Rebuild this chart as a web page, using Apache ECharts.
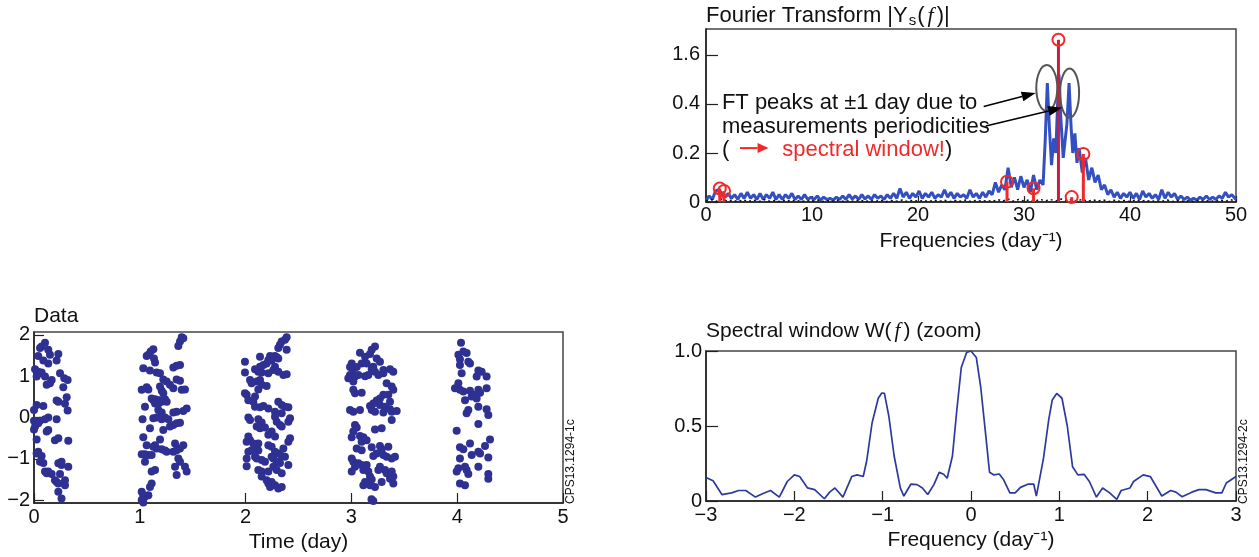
<!DOCTYPE html>
<html><head><meta charset="utf-8">
<script src="https://cdn.jsdelivr.net/npm/echarts@6/dist/echarts.min.js"></script>
<style>html,body{margin:0;padding:0;background:#fff;}#c{width:1259px;height:557px;}</style>
</head><body><div id="c"></div>
<script>
// ---------- Fourier transform panel ----------
const ftYTickValues = [0, 2, 4, 6];
const ftYTickLabels = ['0', '0.2', '0.4', '1.6'];
const ftBlue = [[0,0.05],[0.3,0.25],[0.6,0.1],[0.9,0.45],[1.2,0.5],[1.5,0.35],[1.8,0.2],[2.1,0.35],[2.4,0.15],[2.7,0.3],[3.0,0.1],[3.3,0.35],[3.6,0.15],[3.9,0.4],[4.2,0.15],[4.5,0.3],[4.8,0.1],[5.1,0.35],[5.4,0.1],[5.7,0.3],[6.0,0.15],[6.3,0.4],[6.6,0.1],[6.9,0.3],[7.2,0.1],[7.5,0.3],[7.8,0.15],[8.1,0.35],[8.4,0.1],[8.7,0.25],[9.0,0.1],[9.3,0.3],[9.6,0.1],[9.9,0.2],[10.2,0.1],[10.5,0.25],[10.8,0.08],[11.1,0.2],[11.4,0.1],[11.7,0.15],[12.0,0.08],[12.3,0.2],[12.6,0.1],[12.9,0.25],[13.2,0.1],[13.5,0.3],[13.8,0.12],[14.1,0.25],[14.4,0.1],[14.7,0.3],[15.0,0.12],[15.3,0.25],[15.6,0.1],[15.9,0.3],[16.2,0.15],[16.5,0.25],[16.8,0.1],[17.1,0.3],[17.4,0.15],[17.7,0.35],[18.0,0.15],[18.3,0.55],[18.6,0.2],[18.9,0.4],[19.2,0.15],[19.5,0.35],[19.8,0.2],[20.1,0.45],[20.4,0.15],[20.7,0.35],[21.0,0.2],[21.3,0.4],[21.6,0.15],[21.9,0.3],[22.2,0.2],[22.5,0.5],[22.8,0.2],[23.1,0.4],[23.4,0.15],[23.7,0.35],[24.0,0.2],[24.3,0.3],[24.6,0.15],[24.9,0.5],[25.2,0.2],[25.5,0.35],[25.8,0.15],[26.1,0.4],[26.4,0.2],[26.7,0.45],[27.0,0.3],[27.3,0.8],[27.6,0.4],[27.9,0.7],[28.2,0.5],[28.5,1.4],[28.8,0.6],[29.1,1.0],[29.4,0.5],[29.7,1.05],[30.0,0.6],[30.3,0.9],[30.6,0.4],[30.9,1.1],[31.2,0.5],[31.5,0.9],[31.8,0.7],[32.0,2.5],[32.2,4.85],[32.4,3.0],[32.6,1.5],[32.8,2.6],[33.0,2.0],[33.15,3.8],[33.3,5.2],[33.45,3.6],[33.7,1.8],[33.9,2.6],[34.05,3.2],[34.25,4.85],[34.45,3.0],[34.6,2.0],[34.8,2.8],[35.0,1.6],[35.2,2.2],[35.5,1.2],[35.8,1.8],[36.1,0.9],[36.4,1.4],[36.7,0.8],[37.0,1.1],[37.3,0.5],[37.6,0.7],[37.9,0.3],[38.2,0.5],[38.5,0.2],[38.8,0.4],[39.1,0.15],[39.4,0.35],[39.7,0.2],[40.0,0.4],[40.3,0.15],[40.6,0.35],[40.9,0.1],[41.2,0.45],[41.5,0.2],[41.8,0.35],[42.1,0.15],[42.4,0.3],[42.7,0.1],[43.0,0.5],[43.3,0.15],[43.6,0.4],[43.9,0.2],[44.2,0.35],[44.5,0.1],[44.8,0.25],[45.1,0.1],[45.4,0.2],[45.7,0.08],[46.0,0.15],[46.3,0.08],[46.6,0.2],[46.9,0.1],[47.2,0.25],[47.5,0.1],[47.8,0.2],[48.1,0.1],[48.4,0.25],[48.7,0.15],[49.0,0.4],[49.3,0.2],[49.6,0.3],[50.0,0.1]];
const ftBlack = [[0,0.05],[0.5,0.1],[1,0.03],[1.5,0.12],[2,0.04],[2.5,0.08],[3,0.02],[3.5,0.09],[4,0.03],[4.5,0.07],[5,0.02],[5.5,0.1],[6,0.03],[6.5,0.06],[7,0.02],[7.5,0.08],[8,0.03],[8.5,0.07],[9,0.02],[9.5,0.06],[10,0.03],[10.5,0.08],[11,0.02],[11.5,0.05],[12,0.03],[12.5,0.07],[13,0.02],[13.5,0.06],[14,0.03],[14.5,0.08],[15,0.02],[15.5,0.06],[16,0.03],[16.5,0.07],[17,0.02],[17.5,0.06],[18,0.03],[18.5,0.08],[19,0.02],[19.5,0.07],[20,0.03],[20.5,0.06],[21,0.02],[21.5,0.08],[22,0.03],[22.5,0.07],[23,0.02],[23.5,0.06],[24,0.03],[24.5,0.08],[25,0.02],[25.5,0.07],[26,0.03],[26.5,0.06],[27,0.02],[27.5,0.1],[28,0.04],[28.5,0.12],[29,0.03],[29.5,0.1],[30,0.04],[30.5,0.09],[31,0.03],[31.5,0.11],[32,0.05],[32.5,0.1],[33,0.04],[33.5,0.12],[34,0.05],[34.5,0.1],[35,0.04],[35.5,0.11],[36,0.03],[36.5,0.09],[37,0.04],[37.5,0.08],[38,0.02],[38.5,0.07],[39,0.03],[39.5,0.06],[40,0.02],[40.5,0.08],[41,0.03],[41.5,0.07],[42,0.02],[42.5,0.06],[43,0.03],[43.5,0.08],[44,0.02],[44.5,0.06],[45,0.03],[45.5,0.05],[46,0.02],[46.5,0.07],[47,0.03],[47.5,0.06],[48,0.02],[48.5,0.08],[49,0.03],[49.5,0.09],[50,0.04]];
const ftPeaks = [[1.3,0.55],[1.7,0.45],[28.4,0.83],[30.9,0.56],[33.25,6.62],[34.5,0.2],[35.6,1.96]];

// ---------- Data panel (time in days, value) ----------
const dataDay0 = [[0.104,1.81],[0.072,1.72],[0.057,1.68],[0.135,1.64],[0.151,1.52],[0.23,1.54],[0.04,1.49],[0.088,1.38],[0.214,1.38],[0.135,1.31],[0.01,1.17],[0.04,1.11],[0.072,1.09],[0.246,1.07],[0.025,0.99],[0.104,0.99],[0.167,0.91],[0.286,0.95],[0.318,0.91],[0.151,0.83],[0.12,0.79],[0.277,0.73],[0.309,0.49],[0.214,0.41],[0.23,0.38],[0.025,0.30],[0.088,0.28],[0.293,0.33],[0.0,0.18],[0.318,0.17],[0.135,0.0],[0.104,-0.04],[0.214,-0.04],[0.057,-0.08],[0.0,-0.08],[0.04,-0.14],[0.01,-0.22],[0.0,-0.29],[0.135,-0.30],[0.12,-0.34],[0.23,-0.50],[0.198,-0.55],[0.324,-0.56],[0.025,-0.53],[0.04,-0.83],[0.025,-0.87],[0.072,-0.93],[0.057,-1.07],[0.088,-1.10],[0.23,-1.11],[0.26,-1.07],[0.26,-1.15],[0.324,-1.19],[0.135,-1.31],[0.12,-1.35],[0.104,-1.31],[0.167,-1.37],[0.246,-1.37],[0.198,-1.52],[0.214,-1.56],[0.293,-1.52],[0.23,-1.60],[0.293,-1.64],[0.23,-1.80],[0.26,-1.96]];
const dataDay1 = [[1.396,1.94],[1.411,1.92],[1.380,1.84],[1.364,1.73],[1.128,1.65],[1.103,1.60],[1.081,1.52],[1.065,1.49],[1.134,1.43],[1.144,1.33],[1.033,1.19],[1.096,1.14],[1.159,1.09],[1.191,1.07],[1.348,1.25],[1.380,1.27],[1.317,1.21],[1.222,0.92],[1.254,0.87],[1.348,0.92],[1.380,0.89],[1.285,0.79],[1.317,0.71],[1.396,0.67],[1.427,0.68],[1.018,0.67],[1.065,0.73],[1.081,0.68],[1.191,0.75],[1.207,0.65],[1.222,0.59],[1.112,0.46],[1.128,0.42],[1.144,0.44],[1.159,0.38],[1.175,0.41],[1.191,0.42],[1.207,0.38],[1.222,0.41],[1.238,0.44],[1.254,0.38],[1.144,0.34],[1.175,0.33],[1.049,0.26],[1.175,0.18],[1.207,0.12],[1.317,0.12],[1.348,0.14],[1.411,0.16],[1.443,0.22],[1.026,-0.04],[1.128,-0.02],[1.159,0.0],[1.207,-0.04],[1.238,0.0],[1.270,-0.04],[1.096,-0.26],[1.222,-0.30],[1.285,-0.22],[1.317,-0.18],[1.348,-0.14],[1.380,-0.13],[1.033,-0.48],[1.191,-0.53],[1.065,-0.67],[1.128,-0.71],[1.159,-0.75],[1.144,-0.67],[1.207,-0.77],[1.238,-0.80],[1.254,-0.83],[1.317,-0.83],[1.348,-0.79],[1.380,-0.75],[1.411,-0.67],[1.333,-0.63],[1.018,-0.89],[1.049,-0.89],[1.081,-0.91],[1.112,-0.91],[1.049,-1.07],[1.364,-0.99],[1.380,-1.07],[1.333,-1.19],[1.427,-1.19],[1.443,-1.31],[1.348,-1.39],[1.112,-1.31],[1.144,-1.27],[1.112,-1.60],[1.096,-1.68],[1.018,-1.80],[1.033,-1.88],[1.049,-1.92],[1.081,-1.88],[1.018,-2.00],[1.033,-2.06]];
const dataDay2 = [[2.388,1.94],[2.372,1.88],[2.341,1.84],[2.325,1.76],[2.309,1.68],[2.388,1.64],[2.136,1.47],[2.231,1.49],[2.262,1.47],[2.278,1.49],[2.294,1.46],[2.309,1.43],[2.215,1.39],[2.246,1.38],[2.199,1.31],[2.168,1.27],[2.136,1.23],[1.994,1.35],[1.994,1.09],[2.089,1.17],[2.120,1.11],[2.152,1.09],[2.309,1.11],[2.357,1.03],[2.388,1.05],[2.278,1.23],[2.262,1.15],[2.215,1.07],[2.042,0.91],[2.057,0.83],[2.105,0.87],[2.136,0.91],[2.152,0.79],[2.199,0.76],[2.120,0.68],[1.994,0.59],[2.010,0.55],[2.089,0.51],[2.026,0.42],[2.073,0.38],[2.089,0.26],[2.136,0.25],[2.168,0.28],[2.215,0.22],[2.309,0.38],[2.341,0.30],[2.372,0.26],[2.404,0.25],[2.278,0.14],[2.341,0.10],[2.026,0.0],[2.042,-0.06],[2.120,-0.04],[2.152,-0.12],[2.105,-0.22],[2.136,-0.26],[2.183,-0.24],[2.278,0.02],[2.294,-0.10],[2.325,-0.18],[2.341,-0.22],[2.404,-0.10],[2.420,-0.02],[2.246,-0.34],[2.215,-0.42],[2.278,-0.46],[2.026,-0.46],[2.042,-0.55],[2.010,-0.59],[2.073,-0.63],[2.120,-0.63],[2.105,-0.75],[2.026,-0.83],[2.057,-0.79],[2.010,-0.99],[2.120,-0.80],[2.215,-0.67],[2.246,-0.71],[2.278,-0.83],[2.309,-0.87],[2.357,-0.75],[2.404,-0.59],[2.420,-0.50],[2.372,-0.95],[2.341,-0.93],[2.089,-0.95],[2.105,-0.99],[2.152,-1.03],[2.183,-1.07],[2.246,-0.95],[2.262,-0.99],[2.294,-1.07],[2.325,-1.10],[2.010,-1.18],[2.120,-1.27],[2.152,-1.31],[2.215,-1.31],[2.262,-1.19],[2.294,-1.27],[2.341,-1.35],[2.404,-1.15],[2.152,-1.43],[2.199,-1.52],[2.215,-1.60],[2.246,-1.56],[2.278,-1.64],[2.309,-1.72],[2.341,-1.68],[2.231,-1.68]];
const dataDay3 = [[3.223,1.72],[3.192,1.64],[3.176,1.54],[3.081,1.57],[3.129,1.47],[3.239,1.43],[3.097,1.31],[3.144,1.31],[3.270,1.35],[3.003,1.31],[2.987,1.22],[3.018,1.17],[3.050,1.22],[3.207,1.23],[3.192,1.17],[3.223,1.11],[3.302,1.15],[3.365,1.17],[3.396,1.11],[3.302,1.07],[2.987,1.03],[3.034,0.99],[3.066,1.03],[3.129,1.00],[3.160,1.03],[3.255,1.03],[2.971,0.95],[3.018,0.87],[3.333,0.83],[3.381,0.75],[3.396,0.67],[3.018,0.67],[3.034,0.59],[3.097,0.60],[3.302,0.55],[3.270,0.46],[3.349,0.55],[3.239,0.41],[3.207,0.34],[3.176,0.28],[3.365,0.38],[3.270,0.30],[3.318,0.26],[3.365,0.20],[2.987,0.18],[3.018,0.14],[3.081,0.18],[3.192,0.18],[3.223,0.14],[3.381,0.14],[3.428,0.16],[3.302,0.12],[3.381,-0.06],[3.034,-0.18],[3.050,-0.24],[3.286,-0.26],[3.223,-0.29],[3.018,-0.34],[3.081,-0.45],[3.113,-0.48],[3.003,-0.48],[3.097,-0.59],[3.144,-0.55],[3.050,-0.75],[3.097,-0.79],[3.192,-0.72],[3.270,-0.69],[3.286,-0.77],[3.349,-0.71],[3.239,-0.87],[3.207,-0.93],[3.302,-0.91],[3.333,-0.95],[3.381,-0.99],[3.412,-0.95],[3.003,-0.99],[3.018,-1.07],[3.066,-1.11],[3.034,-1.19],[3.097,-1.15],[3.144,-1.15],[3.003,-1.31],[3.113,-1.27],[3.160,-1.31],[3.255,-1.27],[3.270,-1.19],[3.318,-1.27],[3.333,-1.35],[3.381,-1.31],[3.396,-1.43],[3.365,-1.48],[3.176,-1.43],[3.192,-1.50],[3.129,-1.56],[3.113,-1.64],[3.176,-1.64],[3.223,-1.68],[3.286,-1.56],[3.396,-1.60],[3.207,-2.02],[3.19,-1.98]];
const dataDay4 = [[4.036,1.81],[4.011,1.52],[4.058,1.60],[4.089,1.56],[4.026,1.41],[4.105,1.35],[4.121,1.31],[4.026,1.27],[4.042,1.07],[4.200,1.14],[4.231,1.11],[4.184,0.99],[4.278,0.99],[4.011,0.83],[3.979,0.71],[4.026,0.67],[4.058,0.63],[4.121,0.65],[4.152,0.55],[4.137,0.51],[4.200,0.67],[4.216,0.60],[4.278,0.71],[4.074,0.42],[4.184,0.46],[4.200,0.26],[4.278,0.20],[4.105,0.18],[4.089,0.10],[4.294,0.06],[4.200,-0.16],[3.995,-0.32],[4.310,-0.53],[4.121,-0.63],[4.263,-0.69],[4.026,-0.72],[4.058,-0.77],[4.137,-0.91],[4.200,-0.83],[4.216,-0.87],[4.026,-0.99],[4.294,-0.97],[4.011,-1.23],[3.995,-1.31],[4.074,-1.19],[4.089,-1.27],[4.105,-1.37],[4.200,-1.19],[4.294,-1.37],[4.294,-1.48],[4.026,-1.60],[4.074,-1.64],[4.137,-2.08]];
const dataYTicks = [-2, -1, 0, 1, 2];

// ---------- Spectral window panel ----------
const windowCurve = [[-3.0,0.157],[-2.92,0.135],[-2.82,0.043],[-2.71,0.054],[-2.63,0.07],[-2.55,0.07],[-2.44,0.026],[-2.36,0.048],[-2.27,0.07],[-2.17,0.026],[-2.08,0.13],[-2.0,0.174],[-1.94,0.163],[-1.85,0.087],[-1.77,0.076],[-1.66,0.015],[-1.60,0.059],[-1.54,0.087],[-1.45,0.026],[-1.35,0.163],[-1.29,0.174],[-1.22,0.163],[-1.18,0.27],[-1.12,0.52],[-1.05,0.685],[-1.01,0.72],[-0.98,0.717],[-0.93,0.565],[-0.87,0.30],[-0.80,0.087],[-0.76,0.033],[-0.68,0.113],[-0.61,0.109],[-0.55,0.087],[-0.49,0.043],[-0.42,0.109],[-0.36,0.191],[-0.31,0.178],[-0.27,0.152],[-0.21,0.30],[-0.16,0.61],[-0.11,0.89],[-0.05,0.99],[0.0,1.0],[0.06,0.957],[0.11,0.76],[0.16,0.478],[0.21,0.191],[0.26,0.174],[0.32,0.18],[0.37,0.141],[0.44,0.054],[0.50,0.054],[0.56,0.091],[0.65,0.113],[0.71,0.113],[0.74,0.033],[0.76,0.033],[0.82,0.283],[0.88,0.543],[0.92,0.674],[0.97,0.717],[1.03,0.685],[1.09,0.50],[1.15,0.228],[1.21,0.174],[1.28,0.178],[1.34,0.13],[1.42,0.026],[1.49,0.087],[1.57,0.054],[1.65,0.011],[1.70,0.07],[1.80,0.087],[1.84,0.13],[1.95,0.174],[2.03,0.163],[2.16,0.033],[2.26,0.07],[2.32,0.059],[2.39,0.028],[2.50,0.059],[2.58,0.076],[2.66,0.076],[2.77,0.054],[2.84,0.054],[2.89,0.12],[3.0,0.163]];
const windowYTicks = [0, 0.5, 1.0];

const FONT = 'Liberation Sans, Arial, Helvetica, sans-serif';
const SERIF = 'Liberation Serif, DejaVu Serif, serif';
const TXT = '#111';
const chart = echarts.init(document.getElementById('c'), null, {renderer: 'canvas'});

function axisBase(extra) {
  return Object.assign({
    type: 'value',
    axisLine: {show: true, onZero: false, lineStyle: {color: '#222', width: 1.5}},
    splitLine: {show: false},
    nameTextStyle: {color: TXT, fontFamily: FONT, fontSize: 21},
    nameLocation: 'middle'
  }, extra);
}
const gridStyle = {show: true, borderColor: '#444', borderWidth: 1.5, backgroundColor: 'transparent'};
const lab = (extra) => Object.assign({color: TXT, fontFamily: FONT, fontSize: 20}, extra);
const tick = (len, extra) => Object.assign({show: true, inside: true, length: len, lineStyle: {color: '#222', width: 1.2}}, extra || {});
const minusFmt = v => (v < 0 ? '−' + Math.abs(v) : String(v));

chart.setOption({
  animation: false,
  backgroundColor: '#fff',
  grid: [
    Object.assign({left: 706, top: 29, width: 530, height: 173}, gridStyle),
    Object.assign({left: 34, top: 332, width: 529, height: 171}, gridStyle),
    Object.assign({left: 706, top: 351, width: 530, height: 150}, gridStyle)
  ],
  xAxis: [
    axisBase({gridIndex: 0, min: 0, max: 50, interval: 10, name: 'Frequencies (day⁻¹)', nameGap: 29,
      axisTick: tick(6), axisLabel: lab({margin: 3})}),
    axisBase({gridIndex: 1, min: 0, max: 5, interval: 1, name: 'Time (day)', nameGap: 29,
      axisTick: tick(10), axisLabel: lab({margin: 4})}),
    axisBase({gridIndex: 2, min: -3, max: 3, interval: 1, name: 'Frequency (day⁻¹)', nameGap: 29,
      axisTick: tick(10), axisLabel: lab({margin: 4, formatter: minusFmt})})
  ],
  yAxis: [
    axisBase({gridIndex: 0, min: 0, max: 7.06,
      axisTick: tick(12, {customValues: ftYTickValues}),
      axisLabel: lab({margin: 6, customValues: ftYTickValues,
        formatter: v => { const i = ftYTickValues.indexOf(v); return i >= 0 ? ftYTickLabels[i] : ''; }})}),
    axisBase({gridIndex: 1, min: -2.07, max: 2.07,
      axisTick: tick(10, {customValues: dataYTicks}),
      axisLabel: lab({margin: 4, customValues: dataYTicks, formatter: minusFmt})}),
    axisBase({gridIndex: 2, min: 0, max: 1.0,
      axisTick: tick(12, {customValues: windowYTicks}),
      axisLabel: lab({margin: 4, customValues: windowYTicks, formatter: v => (v === 0 ? '0' : v.toFixed(1))})})
  ],
  series: [
    {type: 'line', xAxisIndex: 0, yAxisIndex: 0, data: ftBlue, showSymbol: false, symbol: 'none',
      lineStyle: {color: '#3350c2', width: 3}, z: 2},
    {type: 'line', xAxisIndex: 0, yAxisIndex: 0, data: ftBlack, showSymbol: false, symbol: 'none',
      lineStyle: {color: '#111', width: 1.5, type: [2, 3]}, z: 3},
    {type: 'custom', xAxisIndex: 0, yAxisIndex: 0, data: ftPeaks, z: 4,
      renderItem: function (params, api) {
        const top = api.coord([api.value(0), api.value(1)]);
        const base = api.coord([api.value(0), 0]);
        const main = api.value(1) > 5;
        return {type: 'group', children: [
          {type: 'line', shape: {x1: base[0], y1: base[1], x2: top[0], y2: top[1]},
            style: {stroke: main ? '#c81e3c' : '#ee2a2a', lineWidth: 3}},
          {type: 'circle', shape: {cx: top[0], cy: top[1], r: 6},
            style: {fill: 'none', stroke: '#f02a2a', lineWidth: 2}}
        ]};
      }},
    {type: 'scatter', xAxisIndex: 1, yAxisIndex: 1,
      data: [].concat(dataDay0, dataDay1, dataDay2, dataDay3, dataDay4),
      symbolSize: 8, itemStyle: {color: '#2e3192', opacity: 1}},
    {type: 'line', xAxisIndex: 2, yAxisIndex: 2, data: windowCurve, showSymbol: false, symbol: 'none',
      lineStyle: {color: '#2b3a9c', width: 1.7}}
  ]
});

// ---------- annotations ----------
function px(x, y) { return chart.convertToPixel({gridIndex: 0}, [x, y]); }
function arrow(p0, p1, color, lw, hl, hw) {
  const dx = p1[0] - p0[0], dy = p1[1] - p0[1];
  const L = Math.sqrt(dx * dx + dy * dy), ux = dx / L, uy = dy / L;
  const bx = p1[0] - ux * hl, by = p1[1] - uy * hl;
  return [
    {type: 'line', z: 100, shape: {x1: p0[0], y1: p0[1], x2: bx, y2: by}, style: {stroke: color, lineWidth: lw}},
    {type: 'polygon', z: 100, shape: {points: [[p1[0], p1[1]], [bx - uy * hw / 2, by + ux * hw / 2], [bx + uy * hw / 2, by - ux * hw / 2]]},
      style: {fill: color}}
  ];
}
const tStyle = {fontFamily: FONT, fontSize: 22, fill: TXT};
const l1 = px(1.5, 4.04), l2 = px(1.5, 3.06), l3 = px(1.5, 2.12), l3b = px(7.2, 2.12);
const e1 = px(32.15, 4.65), e2 = px(34.3, 4.45);
const elems = [
  {type: 'text', left: 706, top: 4, z: 100, style: {
    text: '{n|Fourier Transform |Y}{s|s}{n|(}{f|f}{n|)|}',
    rich: {n: {fontFamily: FONT, fontSize: 22, fill: TXT, lineHeight: 26},
           s: {fontFamily: FONT, fontSize: 15, fill: TXT, lineHeight: 26, padding: [9, 1, 0, 1]},
           f: {fontFamily: SERIF, fontStyle: 'italic', fontSize: 22, fill: TXT, lineHeight: 26, padding: [0, 3, 0, 3]}}}},
  {type: 'text', left: 34, top: 306, z: 100, style: {text: 'Data', fontFamily: FONT, fontSize: 21, fill: TXT}},
  {type: 'text', left: 706, top: 321, z: 100, style: {
    text: '{n|Spectral window W(}{f|f}{n|) (zoom)}',
    rich: {n: {fontFamily: FONT, fontSize: 21, fill: TXT, lineHeight: 24},
           f: {fontFamily: SERIF, fontStyle: 'italic', fontSize: 21, fill: TXT, lineHeight: 24, padding: [0, 3, 0, 3]}}}},
  {type: 'text', x: 565, y: 504, rotation: Math.PI / 2, z: 100, style: {text: 'CPS13.1294-1c', fontFamily: FONT, fontSize: 12, fill: TXT, textVerticalAlign: 'top'}},
  {type: 'text', x: 1238, y: 504, rotation: Math.PI / 2, z: 100, style: {text: 'CPS13.1294-2c', fontFamily: FONT, fontSize: 12, fill: TXT, textVerticalAlign: 'top'}},
  {type: 'text', x: l1[0], y: l1[1], z: 100, style: Object.assign({text: 'FT peaks at ±1 day due to', textVerticalAlign: 'middle'}, tStyle)},
  {type: 'text', x: l2[0], y: l2[1], z: 100, style: Object.assign({text: 'measurements periodicities', textVerticalAlign: 'middle'}, tStyle)},
  {type: 'text', x: l3[0], y: l3[1], z: 100, style: Object.assign({text: '(', textVerticalAlign: 'middle'}, tStyle)},
  {type: 'text', x: l3b[0], y: l3b[1], z: 100, style: {text: '{r|spectral window!}{k|)}', textVerticalAlign: 'middle',
    rich: {r: {fontFamily: FONT, fontSize: 22, fill: '#ee2a2a'}, k: {fontFamily: FONT, fontSize: 22, fill: TXT}}}},
  {type: 'ellipse', z: 100, shape: {cx: e1[0], cy: e1[1], rx: 10.5, ry: 23}, style: {fill: 'none', stroke: '#555', lineWidth: 2}},
  {type: 'ellipse', z: 100, shape: {cx: e2[0], cy: e2[1], rx: 9.5, ry: 24.5}, style: {fill: 'none', stroke: '#555', lineWidth: 2}}
].concat(
  arrow(px(26.2, 3.9), px(31.1, 4.45), '#000', 1.5, 14, 10),
  arrow(px(26.4, 3.1), px(33.6, 3.85), '#000', 1.5, 14, 10),
  arrow(px(3.2, 2.2), px(5.9, 2.2), '#ee2a2a', 2, 11, 10)
);
chart.setOption({graphic: {elements: elems}});
</script>
</body></html>
